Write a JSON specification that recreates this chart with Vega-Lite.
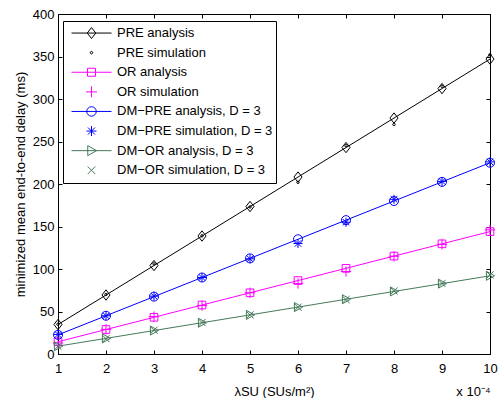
{
  "$schema": "https://vega.github.io/schema/vega-lite/v6.json",
  "width": 432,
  "height": 340,
  "autosize": "none",
  "padding": {"left": 58, "top": 14, "right": 10, "bottom": 44},
  "background": "white",
  "config": {
    "font": "Liberation Sans",
    "view": {"stroke": "black", "strokeWidth": 1},
    "axis": {
      "grid": false,
      "domainColor": "black",
      "domainWidth": 1,
      "tickColor": "black",
      "tickWidth": 1,
      "labelColor": "black",
      "labelFont": "Liberation Sans",
      "labelFontSize": 13,
      "titleFont": "Liberation Sans",
      "titleFontSize": 13,
      "titleFontWeight": "normal",
      "titleColor": "black",
      "labelFlush": false,
      "labelOverlap": false
    },
    "legend": {
      "orient": "none",
      "legendX": 5,
      "legendY": 7,
      "padding": 3,
      "strokeColor": "black",
      "fillColor": "white",
      "labelFont": "Liberation Sans",
      "labelFontSize": 13,
      "labelColor": "black",
      "labelLimit": 400,
      "labelOffset": 0,
      "symbolSize": 2500,
      "symbolStrokeWidth": 1,
      "symbolOpacity": 1,
      "clipHeight": 18.1,
      "rowPadding": 0.6
    }
  },
  "data": {
    "values": [
      {"x": 1, "y": 34.7, "series": "PRE analysis"},
      {"x": 2, "y": 69.4, "series": "PRE analysis"},
      {"x": 3, "y": 104.1, "series": "PRE analysis"},
      {"x": 4, "y": 138.8, "series": "PRE analysis"},
      {"x": 5, "y": 173.5, "series": "PRE analysis"},
      {"x": 6, "y": 208.2, "series": "PRE analysis"},
      {"x": 7, "y": 242.9, "series": "PRE analysis"},
      {"x": 8, "y": 277.6, "series": "PRE analysis"},
      {"x": 9, "y": 312.3, "series": "PRE analysis"},
      {"x": 10, "y": 347, "series": "PRE analysis"},
      {"x": 1, "y": 35, "series": "PRE simulation"},
      {"x": 2, "y": 70, "series": "PRE simulation"},
      {"x": 3, "y": 106, "series": "PRE simulation"},
      {"x": 4, "y": 139, "series": "PRE simulation"},
      {"x": 5, "y": 173, "series": "PRE simulation"},
      {"x": 6, "y": 202, "series": "PRE simulation"},
      {"x": 7, "y": 245, "series": "PRE simulation"},
      {"x": 8, "y": 270, "series": "PRE simulation"},
      {"x": 9, "y": 315, "series": "PRE simulation"},
      {"x": 10, "y": 352, "series": "PRE simulation"},
      {"x": 1, "y": 14.4, "series": "OR analysis"},
      {"x": 2, "y": 28.8, "series": "OR analysis"},
      {"x": 3, "y": 43.2, "series": "OR analysis"},
      {"x": 4, "y": 57.6, "series": "OR analysis"},
      {"x": 5, "y": 72, "series": "OR analysis"},
      {"x": 6, "y": 86.4, "series": "OR analysis"},
      {"x": 7, "y": 100.8, "series": "OR analysis"},
      {"x": 8, "y": 115.2, "series": "OR analysis"},
      {"x": 9, "y": 129.6, "series": "OR analysis"},
      {"x": 10, "y": 144, "series": "OR analysis"},
      {"x": 1, "y": 13, "series": "OR simulation"},
      {"x": 2, "y": 29, "series": "OR simulation"},
      {"x": 3, "y": 44, "series": "OR simulation"},
      {"x": 4, "y": 57, "series": "OR simulation"},
      {"x": 5, "y": 72, "series": "OR simulation"},
      {"x": 6, "y": 83, "series": "OR simulation"},
      {"x": 7, "y": 97, "series": "OR simulation"},
      {"x": 8, "y": 115, "series": "OR simulation"},
      {"x": 9, "y": 129, "series": "OR simulation"},
      {"x": 10, "y": 146, "series": "OR simulation"},
      {"x": 1, "y": 22.5, "series": "DM−PRE analysis, D = 3"},
      {"x": 2, "y": 45, "series": "DM−PRE analysis, D = 3"},
      {"x": 3, "y": 67.5, "series": "DM−PRE analysis, D = 3"},
      {"x": 4, "y": 90, "series": "DM−PRE analysis, D = 3"},
      {"x": 5, "y": 112.5, "series": "DM−PRE analysis, D = 3"},
      {"x": 6, "y": 135, "series": "DM−PRE analysis, D = 3"},
      {"x": 7, "y": 157.5, "series": "DM−PRE analysis, D = 3"},
      {"x": 8, "y": 180, "series": "DM−PRE analysis, D = 3"},
      {"x": 9, "y": 202.5, "series": "DM−PRE analysis, D = 3"},
      {"x": 10, "y": 225, "series": "DM−PRE analysis, D = 3"},
      {"x": 1, "y": 23, "series": "DM−PRE simulation, D = 3"},
      {"x": 2, "y": 45, "series": "DM−PRE simulation, D = 3"},
      {"x": 3, "y": 68, "series": "DM−PRE simulation, D = 3"},
      {"x": 4, "y": 90, "series": "DM−PRE simulation, D = 3"},
      {"x": 5, "y": 112, "series": "DM−PRE simulation, D = 3"},
      {"x": 6, "y": 130, "series": "DM−PRE simulation, D = 3"},
      {"x": 7, "y": 155, "series": "DM−PRE simulation, D = 3"},
      {"x": 8, "y": 182, "series": "DM−PRE simulation, D = 3"},
      {"x": 9, "y": 203, "series": "DM−PRE simulation, D = 3"},
      {"x": 10, "y": 226, "series": "DM−PRE simulation, D = 3"},
      {"x": 1, "y": 9.2, "series": "DM−OR analysis, D = 3"},
      {"x": 2, "y": 18.4, "series": "DM−OR analysis, D = 3"},
      {"x": 3, "y": 27.6, "series": "DM−OR analysis, D = 3"},
      {"x": 4, "y": 36.8, "series": "DM−OR analysis, D = 3"},
      {"x": 5, "y": 46, "series": "DM−OR analysis, D = 3"},
      {"x": 6, "y": 55.2, "series": "DM−OR analysis, D = 3"},
      {"x": 7, "y": 64.4, "series": "DM−OR analysis, D = 3"},
      {"x": 8, "y": 73.6, "series": "DM−OR analysis, D = 3"},
      {"x": 9, "y": 82.8, "series": "DM−OR analysis, D = 3"},
      {"x": 10, "y": 92, "series": "DM−OR analysis, D = 3"},
      {"x": 1, "y": 9, "series": "DM−OR simulation, D = 3"},
      {"x": 2, "y": 18, "series": "DM−OR simulation, D = 3"},
      {"x": 3, "y": 28, "series": "DM−OR simulation, D = 3"},
      {"x": 4, "y": 37, "series": "DM−OR simulation, D = 3"},
      {"x": 5, "y": 46, "series": "DM−OR simulation, D = 3"},
      {"x": 6, "y": 55, "series": "DM−OR simulation, D = 3"},
      {"x": 7, "y": 64, "series": "DM−OR simulation, D = 3"},
      {"x": 8, "y": 74, "series": "DM−OR simulation, D = 3"},
      {"x": 9, "y": 83, "series": "DM−OR simulation, D = 3"},
      {"x": 10, "y": 93, "series": "DM−OR simulation, D = 3"}
    ]
  },
  "resolve": {"axis": {"x": "independent", "y": "independent"}},
  "layer": [
    {
      "transform": [{"filter": "indexof(datum.series, 'analysis') >= 0"}],
      "mark": {
        "type": "line", "strokeWidth": 1,
        "stroke": {"expr": "indexof(datum.series, 'DM−PRE') >= 0 ? '#0000ff' : indexof(datum.series, 'DM−OR') >= 0 ? '#457a5a' : indexof(datum.series, 'OR') === 0 ? '#ff00ff' : '#000000'"}
      },
      "encoding": {
        "x": {
          "field": "x", "type": "quantitative",
          "scale": {"domain": [1, 10], "nice": false, "zero": false},
          "axis": {
            "orient": "bottom",
            "values": [1, 2, 3, 4, 5, 6, 7, 8, 9, 10],
            "format": "d",
            "tickSize": -4,
            "labelPadding": 12,
            "title": "λSU (SUs/m²)",
            "titleX": 216,
            "titleY": 41,
            "titleAlign": "center",
            "titleBaseline": "alphabetic"
          }
        },
        "y": {
          "field": "y", "type": "quantitative",
          "scale": {"domain": [0, 400], "nice": false, "zero": false},
          "axis": {
            "orient": "left",
            "values": [0, 50, 100, 150, 200, 250, 300, 350, 400],
            "tickSize": -4,
            "labelPadding": 8,
            "title": "minimized mean end-to-end delay (ms)",
            "titlePadding": 5
          }
        },
        "detail": {"field": "series", "type": "nominal"}
      }
    },
    {
      "mark": {
        "type": "point", "filled": false, "strokeWidth": 1, "size": 81, "opacity": 1,
        "shape": {"expr": "datum.series ? (datum.series === 'PRE analysis' ? 'M0,-1.15L0.9,0L0,1.15L-0.9,0Z' : datum.series === 'PRE simulation' ? 'M-0.28,0A0.28,0.28 0 1,0 0.28,0A0.28,0.28 0 1,0 -0.28,0Z' : datum.series === 'OR analysis' ? 'M-0.85,-0.85H0.85V0.85H-0.85Z' : datum.series === 'OR simulation' ? 'M-1.15,0H1.15M0,-1.15V1.15' : datum.series === 'DM−PRE analysis, D = 3' ? 'M-1,0A1,1 0 1,0 1,0A1,1 0 1,0 -1,0Z' : datum.series === 'DM−PRE simulation, D = 3' ? 'M-1,0H1M0,-1V1M-0.7,-0.7L0.7,0.7M-0.7,0.7L0.7,-0.7' : datum.series === 'DM−OR analysis, D = 3' ? 'M-0.8,-1L1,0L-0.8,1Z' : 'M-0.8,-0.8L0.8,0.8M-0.8,0.8L0.8,-0.8') : (datum.value === 'PRE analysis' ? 'M-0.8,0H0.8M0,-0.22L0.17,0L0,0.22L-0.17,0Z' : datum.value === 'PRE simulation' ? 'M-0.05,0A0.05,0.05 0 1,0 0.05,0A0.05,0.05 0 1,0 -0.05,0Z' : datum.value === 'OR analysis' ? 'M-0.8,0H0.8M-0.16,-0.16H0.16V0.16H-0.16Z' : datum.value === 'OR simulation' ? 'M-0.22,0H0.22M0,-0.22V0.22' : datum.value === 'DM−PRE analysis, D = 3' ? 'M-0.8,0H0.8M-0.19,0A0.19,0.19 0 1,0 0.19,0A0.19,0.19 0 1,0 -0.19,0Z' : datum.value === 'DM−PRE simulation, D = 3' ? 'M-0.2,0H0.2M0,-0.2V0.2M-0.14,-0.14L0.14,0.14M-0.14,0.14L0.14,-0.14' : datum.value === 'DM−OR analysis, D = 3' ? 'M-0.8,0H0.8M-0.15,-0.2L0.2,0L-0.15,0.2Z' : 'M-0.15,-0.15L0.15,0.15M-0.15,0.15L0.15,-0.15')"}
      },
      "encoding": {
        "x": {
          "field": "x", "type": "quantitative",
          "axis": {
            "orient": "top",
            "values": [1, 2, 3, 4, 5, 6, 7, 8, 9, 10],
            "tickSize": -4,
            "labels": false,
            "title": null
          }
        },
        "y": {
          "field": "y", "type": "quantitative",
          "axis": {
            "orient": "right",
            "values": [0, 50, 100, 150, 200, 250, 300, 350, 400],
            "tickSize": -4,
            "labels": false,
            "title": "x 10⁻⁴",
            "titleAngle": 0,
            "titleX": 0,
            "titleY": 381,
            "titleAlign": "right",
            "titleBaseline": "alphabetic"
          }
        },
        "color": {
          "field": "series", "type": "nominal",
          "scale": {
            "domain": ["PRE analysis", "PRE simulation", "OR analysis", "OR simulation", "DM−PRE analysis, D = 3", "DM−PRE simulation, D = 3", "DM−OR analysis, D = 3", "DM−OR simulation, D = 3"],
            "range": ["#000000", "#000000", "#ff00ff", "#ff00ff", "#0000ff", "#0000ff", "#457a5a", "#457a5a"]
          },
          "legend": {
            "title": null,
            "encode": {
              "symbols": {
                "fill": {"value": "transparent"}
              }
            }
          }
        }
      }
    }
  ]
}
